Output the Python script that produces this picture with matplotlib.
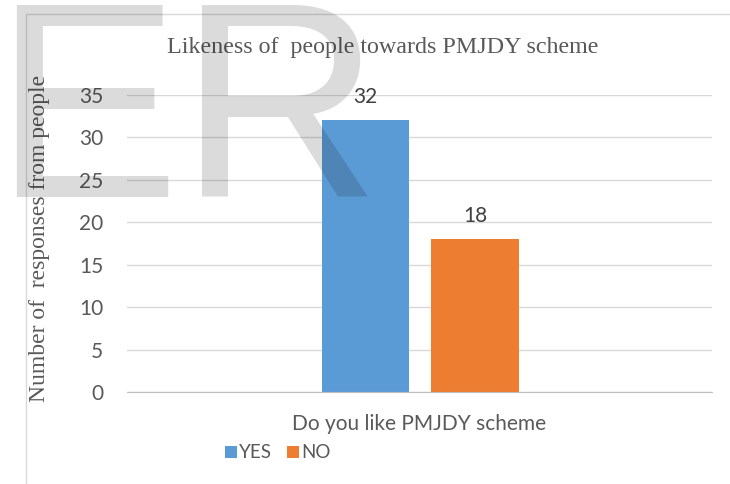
import matplotlib.pyplot as plt
from matplotlib.patches import Rectangle

categories = ["Do you like PMJDY scheme"]
series = ["YES", "NO"]
yes_vals = [32]
no_vals = [18]
yticks = [0, 5, 10, 15, 20, 25, 30, 35]

blue = "#5B9BD5"
orange = "#ED7D31"
grey_txt = "#595959"

fig = plt.figure(figsize=(7.3, 4.84), dpi=100)
ax = fig.add_axes([127 / 730, 92 / 484, 585 / 730, 297 / 484])

# chart area border
fig.add_artist(Rectangle((26 / 730, -0.1), 1.2, (484 - 14) / 484 + 0.1,
                         transform=fig.transFigure, fill=False,
                         edgecolor="#d9d9d9", linewidth=1))

w = 0.3
b1 = ax.bar([-0.185], yes_vals, width=w, color=blue, label=series[0], zorder=2)
b2 = ax.bar([0.19], no_vals, width=w, color=orange, label=series[1], zorder=2)
for bars in (b1, b2):
    for r in bars:
        ax.text(r.get_x() + r.get_width() / 2, r.get_height() + 1.6,
                f"{int(r.get_height())}", ha="center", va="bottom",
                fontsize=15, color="#404040", family="Lato", zorder=3)

ax.set_xlim(-1, 1)
ax.set_ylim(0, 35)
ax.set_yticks(yticks)
ax.set_xticks([0])
ax.set_xticklabels(categories)
ax.tick_params(length=0, labelsize=15, colors=grey_txt)
ax.tick_params(axis="x", pad=16)
ax.tick_params(axis="y", pad=17)
for lab in ax.get_xticklabels() + ax.get_yticklabels():
    lab.set_family("Lato")
ax.yaxis.grid(True, color="#d9d9d9", linewidth=1, zorder=0)
ax.set_axisbelow(True)
for s in ["top", "right", "left"]:
    ax.spines[s].set_visible(False)
ax.spines["bottom"].set_color("#bfbfbf")

fig.text(383 / 730, 1 - 48 / 484, "Likeness of  people towards PMJDY scheme",
         ha="center", va="center", family="Liberation Serif", fontsize=17.3,
         color=grey_txt)
fig.text(40 / 730, 1 - 238 / 484, "Number of  responses from people",
         ha="center", va="center", rotation=90, family="Liberation Serif",
         fontsize=17, color=grey_txt)

leg = fig.legend(loc="center", bbox_to_anchor=(278 / 730, 1 - 453 / 484), ncol=2,
                 frameon=False, handlelength=0.6, handleheight=0.6,
                 handletextpad=0.15, columnspacing=0.8,
                 prop={"family": "Lato", "size": 13.5})
for t in leg.get_texts():
    t.set_color(grey_txt)

# watermark
fig.text(-7 / 730, 1 - 197 / 484, "ER", ha="left", va="baseline",
         family="Liberation Sans", fontsize=201, color="black", alpha=0.14,
         zorder=10)

fig.savefig("out.png", dpi=100)
